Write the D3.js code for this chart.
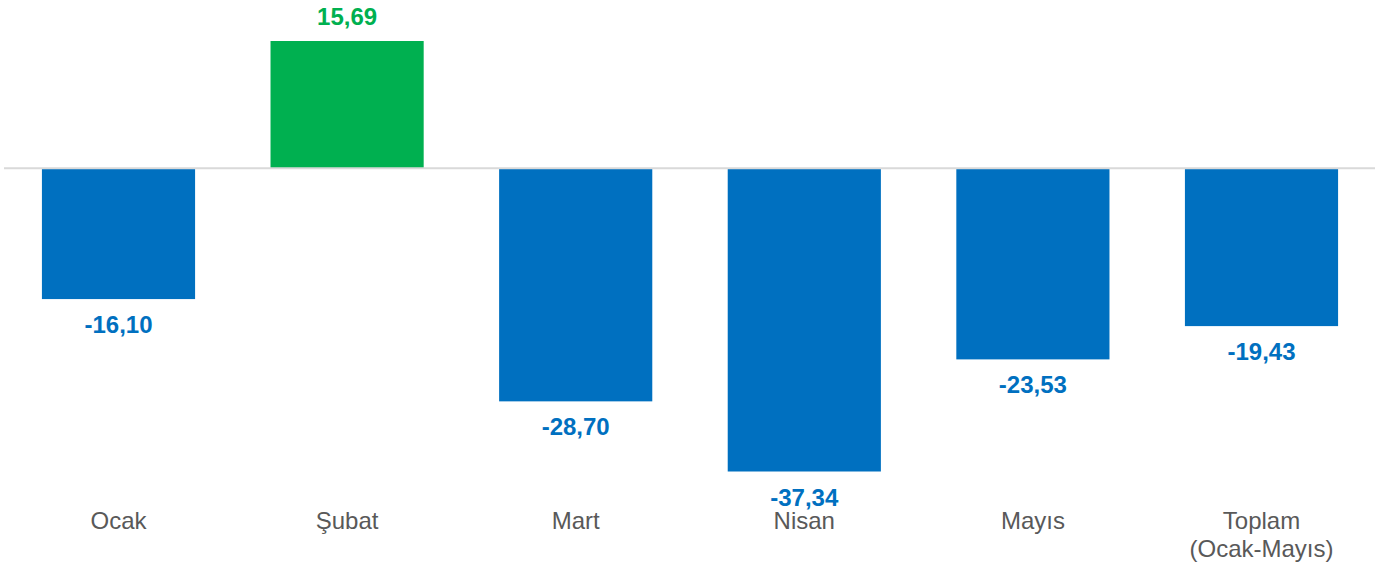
<!DOCTYPE html>
<html>
<head>
<meta charset="utf-8">
<script src="https://cdn.jsdelivr.net/npm/d3@7"></script>
<style>
  html, body { margin: 0; padding: 0; background: #fff; }
  svg { display: block; font-family: "Liberation Sans", Arial, sans-serif; }
</style>
</head>
<body>
<svg id="chart" width="1386" height="567"></svg>
<script>
const categories = [["Ocak"], ["Şubat"], ["Mart"], ["Nisan"], ["Mayıs"], ["Toplam", "(Ocak-Mayıs)"]];
const values = [-16.10, 15.69, -28.70, -37.34, -23.53, -19.43];
const labels = ["-16,10", "15,69", "-28,70", "-37,34", "-23,53", "-19,43"];

const svg = d3.select("#chart");
const keys = categories.map(c => c.join(" "));

const x = d3.scaleBand().domain(keys).range([4.2, 1375.8]).paddingInner(0.33).paddingOuter(0.165);
const y = d3.scaleLinear().domain([-37.34, 15.69]).range([471.5, 41]);

const data = values.map((v, i) => ({ key: keys[i], cat: categories[i], v, label: labels[i] }));

svg.append("g").selectAll("rect").data(data).join("rect")
  .attr("x", d => x(d.key))
  .attr("width", x.bandwidth())
  .attr("y", d => y(Math.max(0, d.v)))
  .attr("height", d => Math.abs(y(d.v) - y(0)))
  .attr("fill", d => d.v >= 0 ? "#00B050" : "#0070C0");

svg.append("line")
  .attr("x1", 4).attr("x2", 1375)
  .attr("y1", y(0)).attr("y2", y(0))
  .attr("stroke", "#D9D9D9").attr("stroke-width", 2);

svg.append("g").selectAll("text").data(data).join("text")
  .attr("x", d => x(d.key) + x.bandwidth() / 2)
  .attr("y", d => d.v >= 0 ? y(d.v) - 16 : y(d.v) + 34)
  .attr("text-anchor", "middle")
  .attr("font-size", 24)
  .attr("font-weight", "bold")
  .attr("fill", d => d.v >= 0 ? "#00B050" : "#0070C0")
  .text(d => d.label);

const cat = svg.append("g").selectAll("text").data(data).join("text")
  .attr("x", d => x(d.key) + x.bandwidth() / 2)
  .attr("y", 529)
  .attr("text-anchor", "middle")
  .attr("font-size", 24)
  .attr("fill", "#595959");
cat.selectAll("tspan").data(d => d.cat.map(t => ({ t, cx: x(d.key) + x.bandwidth() / 2 }))).join("tspan")
  .attr("x", d => d.cx)
  .attr("dy", (d, i) => i === 0 ? 0 : 28)
  .text(d => d.t);
</script>
</body>
</html>
